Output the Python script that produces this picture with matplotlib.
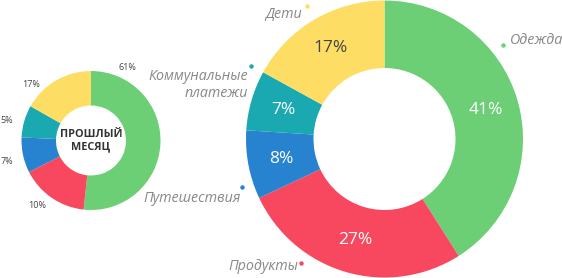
import matplotlib
matplotlib.use('Agg')
import matplotlib.pyplot as plt

plt.rcParams['font.family'] = ['Open Sans', 'DejaVu Sans']

# Данные
categories = ['Одежда', 'Продукты', 'Путешествия', 'Коммунальные\nплатежи', 'Дети']
current_pct = [41, 27, 8, 7, 17]
# прошлый месяц: подписи и фактические доли секторов на картинке расходятся
last_labels = ['61%', '10%', '7%', '5%', '17%']
last_sizes = [51.7, 15.8, 8.2, 7.5, 16.8]

colors = ['#6ccf76', '#f7485f', '#2782cf', '#1aa9b0', '#fedd65']
pct_colors = ['white', 'white', 'white', 'white', '#444444']

W, H = 562, 278
fig = plt.figure(figsize=(W / 100, H / 100), dpi=100)
ax = fig.add_axes([0, 0, 1, 1])

def py(y):
    # пиксели сверху -> координаты снизу
    return H - y

# большой донат
big_c = (384.5, py(139))
big_r, big_ri = 138.5, 71
wedges, _, autotexts = ax.pie(current_pct, colors=colors, startangle=90, counterclock=False,
                              center=big_c, radius=big_r, autopct='%d%%', pctdistance=0.76,
                              wedgeprops=dict(width=big_r - big_ri, linewidth=0))
for t, c in zip(autotexts, pct_colors):
    t.set_color(c)
    t.set_fontsize(12.5)

# маленький донат
small_c = (91, py(140.5))
small_r, small_ri = 69.5, 35
ax.pie(last_sizes, colors=colors, startangle=90, counterclock=False,
       center=small_c, radius=small_r,
       wedgeprops=dict(width=small_r - small_ri, linewidth=0))
ax.text(small_c[0], small_c[1], 'ПРОШЛЫЙ\nМЕСЯЦ', ha='center', va='center',
        fontsize=7.8, fontweight='bold', color='#333333', linespacing=1.2)

# подписи процентов прошлого месяца
small_lbl_pos = [(127.7, 67.5), (36.7, 205), (6.5, 161.7), (6.5, 120.7), (30.7, 84.3)]
for txt, (x, y) in zip(last_labels, small_lbl_pos):
    ax.text(x, py(y), txt, ha='center', va='center', fontsize=6.5, color='#444444')

# подписи категорий с точками
cat_text_pos = [(510, 41, 'left'), (298, 267, 'right'), (240.5, 199, 'right'),
                (248.5, 85, 'right'), (301.5, 14, 'right')]
dot_pos = [(502.5, 44.5), (300.5, 263), (242.3, 187.3), (251, 66), (306.7, 6)]
for cat, col, (tx, ty, ha), (dx, dy) in zip(categories, colors, cat_text_pos, dot_pos):
    ax.text(tx, py(ty), cat, ha=ha, va='center', fontsize=10.3, style='italic',
            color='#888888', linespacing=1.1, multialignment='right' if ha == 'right' else 'left')
    ax.plot(dx, py(dy), 'o', color=col, markersize=3.2, markeredgewidth=0)

ax.set_xlim(0, W)
ax.set_ylim(0, H)
ax.set_aspect('equal')
ax.axis('off')

fig.savefig('out.png', dpi=100)
